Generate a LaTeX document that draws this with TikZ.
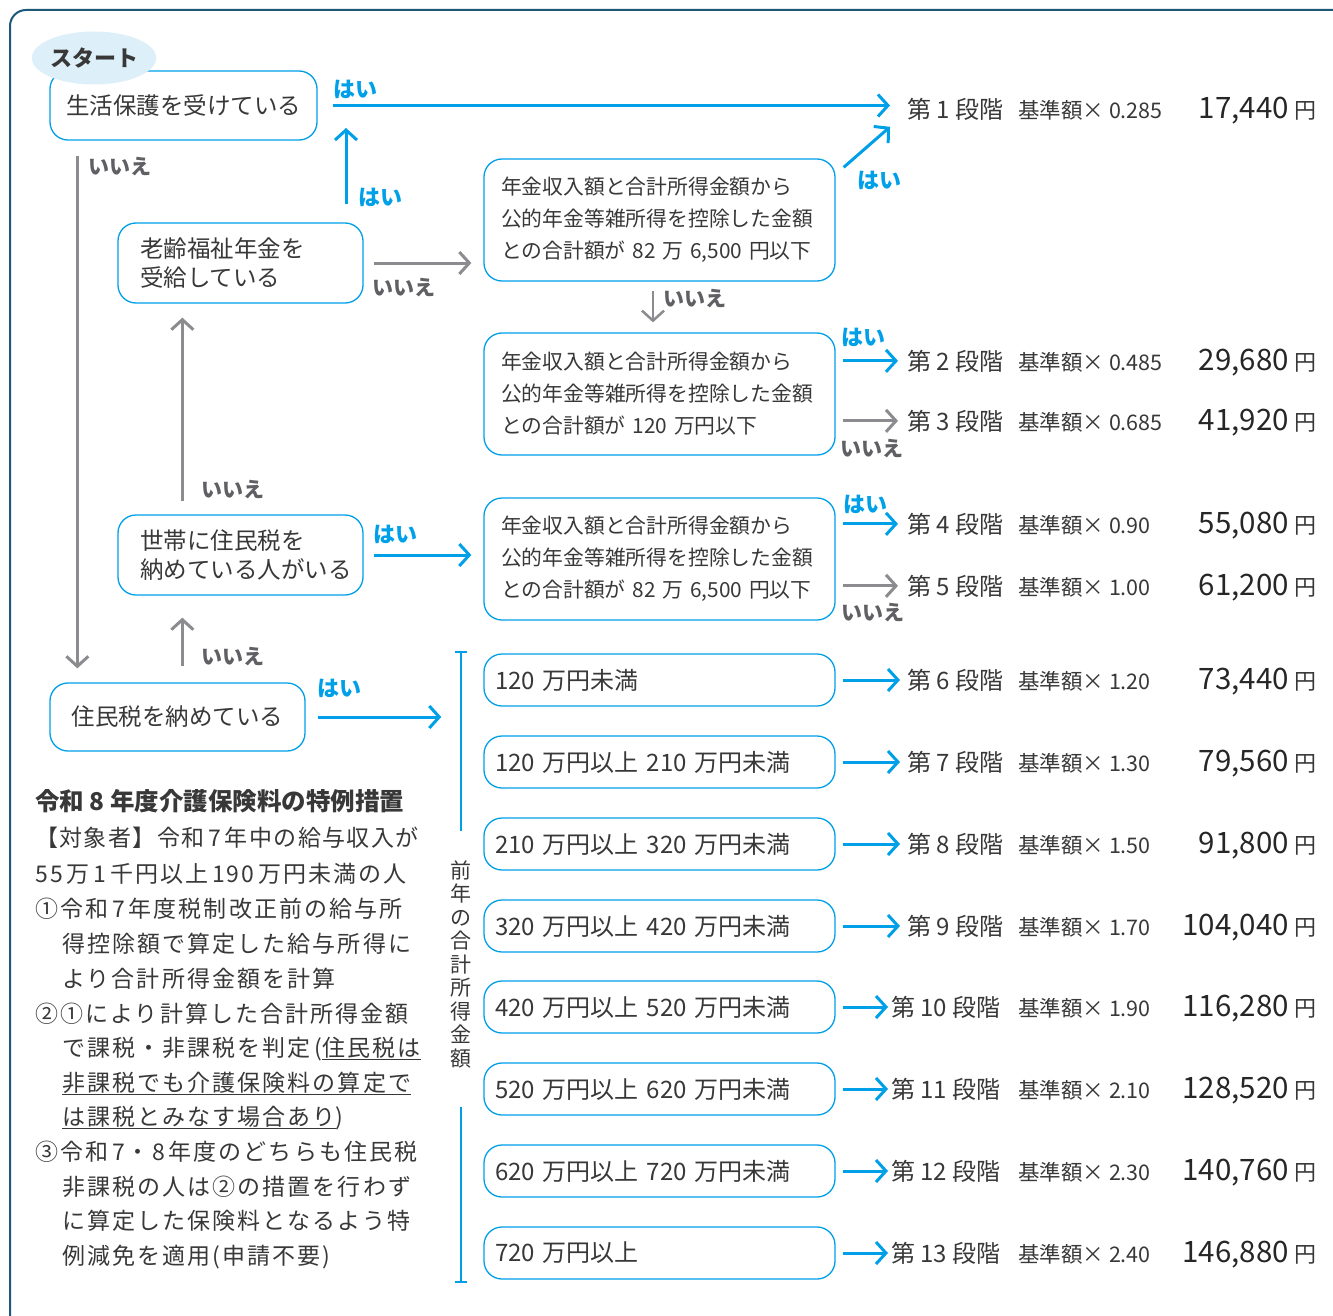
\documentclass[tikz,border=0pt]{standalone}
\usepackage{fontspec}
\usepackage{tikz}
\usetikzlibrary{arrows.meta,shapes.geometric}

\newfontfamily\jp{Noto Sans CJK JP}
\newfontfamily\jpwide{Noto Sans CJK JP}[LetterSpace=9]
\newfontfamily\jpmid{Noto Sans CJK JP}[LetterSpace=6]
\newcommand{\fsz}[2]{\fontsize{#1}{#2}\selectfont}

\definecolor{haiblue}{HTML}{00A0E9}
\definecolor{iiegray}{HTML}{8C8C90}
\definecolor{iieink}{HTML}{606064}
\definecolor{framecol}{HTML}{1D5878}
\definecolor{startfill}{HTML}{DDF0F9}
\definecolor{ink}{HTML}{383838}

\begin{document}
\begin{tikzpicture}[x=1pt,y=1pt,
  qbox/.style={draw=haiblue,line width=1.3pt,rounded corners=18pt},
  rangebox/.style={qbox,minimum width=351pt,minimum height=52pt,inner xsep=11pt,text width=329pt,align=left,font=\jp\fsz{24}{24}},
  calcbox/.style={qbox,minimum width=351pt,minimum height=122pt,inner xsep=17pt,text width=317pt,align=left,font=\jp\fsz{20.8}{32}},
  hai/.style={text=haiblue,font=\jp\bfseries\fsz{22}{22}},
  iie/.style={text=iieink,font=\jp\bfseries\fsz{21}{21}},
  haiarrow/.style={draw=haiblue,line width=3pt,-{Straight Barb[length=10pt,width=22pt]}},
  iiearrow/.style={draw=iiegray,line width=3pt,-{Straight Barb[length=10pt,width=22pt]}},
  stage/.style={anchor=base west,font=\jp\fsz{24}{24}},
  rate/.style={anchor=base west,font=\jp\fsz{21.5}{21.5}},
  yen/.style={anchor=base east,text=black!85,font=\jp\fsz{29.5}{29.5}},
  unit/.style={anchor=base west,font=\jp\fsz{22}{22}},
  note/.style={anchor=base west,font=\jpwide\fsz{23}{23}}]
\tikzstyle{every node}+=[inner sep=0pt,text=ink,font=\jp]
\useasboundingbox (0,0) rectangle (1333,-1316);
\draw [framecol,line width=2pt,rounded corners=16pt] (10,-1340) -- (10,-10) -- (1350,-10);

\node [qbox,minimum width=267pt,minimum height=69pt,font=\jp\fsz{23.5}{23.5}] (seikatsu) at (183.5,-105.5) {生活保護を受けている};
\node [ellipse,fill=startfill,minimum width=122pt,minimum height=53pt,font=\jp\bfseries\fsz{22}{22}] (start) at (94,-58) {スタート};
\node [qbox,minimum width=245pt,minimum height=80pt,inner xsep=22pt,text width=201pt,align=left,font=\jp\fsz{23.5}{29}] (rorei) at (240.5,-263) {老齢福祉年金を\\受給している};
\node [qbox,minimum width=245pt,minimum height=80pt,inner xsep=22pt,text width=201pt,align=left,font=\jp\fsz{23.5}{29}] (setai) at (240.5,-555) {世帯に住民税を\\納めている人がいる};
\node [qbox,minimum width=255pt,minimum height=68pt,font=\jp\fsz{23.5}{23.5}] (jumin) at (177.5,-717) {住民税を納めている};

\node [calcbox] (nenkinA) at (659.5,-220) {年金収入額と合計所得金額から\\公的年金等雑所得を控除した金額\\との合計額が 82 万 6,500 円以下};
\node [calcbox] (nenkinB) at (659.5,-394) {年金収入額と合計所得金額から\\公的年金等雑所得を控除した金額\\との合計額が 120 万円以下};
\node [calcbox] (nenkinC) at (659.5,-559) {年金収入額と合計所得金額から\\公的年金等雑所得を控除した金額\\との合計額が 82 万 6,500 円以下};

\node [rangebox] (r6) at (659.5,-680) {120 万円未満};
\node [rangebox] (r7) at (659.5,-762) {120 万円以上 210 万円未満};
\node [rangebox] (r8) at (659.5,-844) {210 万円以上 320 万円未満};
\node [rangebox] (r9) at (659.5,-926) {320 万円以上 420 万円未満};
\node [rangebox] (r10) at (659.5,-1007) {420 万円以上 520 万円未満};
\node [rangebox] (r11) at (659.5,-1089) {520 万円以上 620 万円未満};
\node [rangebox] (r12) at (659.5,-1171) {620 万円以上 720 万円未満};
\node [rangebox] (r13) at (659.5,-1253) {720 万円以上};

\node [stage] (s1) at (907,-119) {第 1 段階};
\node [rate] (k1) at (1018,-119) {基準額× 0.285};
\node [yen] (a1) at (1289,-119) {17,440};
\node [unit] (u1) at (1294,-119) {円};
\node [stage] (s2) at (907,-370) {第 2 段階};
\node [rate] (k2) at (1018,-370) {基準額× 0.485};
\node [yen] (a2) at (1289,-370) {29,680};
\node [unit] (u2) at (1294,-370) {円};
\node [stage] (s3) at (907,-430) {第 3 段階};
\node [rate] (k3) at (1018,-430) {基準額× 0.685};
\node [yen] (a3) at (1289,-430) {41,920};
\node [unit] (u3) at (1294,-430) {円};
\node [stage] (s4) at (907,-533) {第 4 段階};
\node [rate] (k4) at (1018,-533) {基準額× 0.90};
\node [yen] (a4) at (1289,-533) {55,080};
\node [unit] (u4) at (1294,-533) {円};
\node [stage] (s5) at (907,-595) {第 5 段階};
\node [rate] (k5) at (1018,-595) {基準額× 1.00};
\node [yen] (a5) at (1289,-595) {61,200};
\node [unit] (u5) at (1294,-595) {円};
\node [stage] (s6) at (907,-689) {第 6 段階};
\node [rate] (k6) at (1018,-689) {基準額× 1.20};
\node [yen] (a6) at (1289,-689) {73,440};
\node [unit] (u6) at (1294,-689) {円};
\node [stage] (s7) at (907,-771) {第 7 段階};
\node [rate] (k7) at (1018,-771) {基準額× 1.30};
\node [yen] (a7) at (1289,-771) {79,560};
\node [unit] (u7) at (1294,-771) {円};
\node [stage] (s8) at (907,-853) {第 8 段階};
\node [rate] (k8) at (1018,-853) {基準額× 1.50};
\node [yen] (a8) at (1289,-853) {91,800};
\node [unit] (u8) at (1294,-853) {円};
\node [stage] (s9) at (907,-935) {第 9 段階};
\node [rate] (k9) at (1018,-935) {基準額× 1.70};
\node [yen] (a9) at (1289,-935) {104,040};
\node [unit] (u9) at (1294,-935) {円};
\node [stage] (s10) at (891,-1016) {第 10 段階};
\node [rate] (k10) at (1018,-1016) {基準額× 1.90};
\node [yen] (a10) at (1289,-1016) {116,280};
\node [unit] (u10) at (1294,-1016) {円};
\node [stage] (s11) at (891,-1098) {第 11 段階};
\node [rate] (k11) at (1018,-1098) {基準額× 2.10};
\node [yen] (a11) at (1289,-1098) {128,520};
\node [unit] (u11) at (1294,-1098) {円};
\node [stage] (s12) at (891,-1180) {第 12 段階};
\node [rate] (k12) at (1018,-1180) {基準額× 2.30};
\node [yen] (a12) at (1289,-1180) {140,760};
\node [unit] (u12) at (1294,-1180) {円};
\node [stage] (s13) at (891,-1262) {第 13 段階};
\node [rate] (k13) at (1018,-1262) {基準額× 2.40};
\node [yen] (a13) at (1289,-1262) {146,880};
\node [unit] (u13) at (1294,-1262) {円};

\node [hai] (hai1) at (355,-89) {はい};
\node [hai] (hai2) at (380,-197) {はい};
\node [hai] (hai3) at (879,-180) {はい};
\node [hai] (hai4) at (863,-337) {はい};
\node [hai] (hai5) at (865,-504) {はい};
\node [hai] (hai6) at (395,-534) {はい};
\node [hai] (hai7) at (339,-688) {はい};
\node [iie] (iie1) at (120,-167) {いいえ};
\node [iie] (iie2) at (404,-288) {いいえ};
\node [iie] (iie3) at (695,-299) {いいえ};
\node [iie] (iie4) at (872,-449) {いいえ};
\node [iie] (iie5) at (873,-613) {いいえ};
\node [iie] (iie6) at (233,-490) {いいえ};
\node [iie] (iie7) at (233,-657) {いいえ};

\coordinate (haiup) at (346,-107);
\draw [haiarrow,shorten <=15pt,shorten >=17pt] (seikatsu.east) -- (seikatsu.east -| s1.west);
\draw [haiarrow,shorten <=18pt,shorten >=21pt] (rorei.north -| haiup) -- (haiup);
\draw [iiearrow,shorten <=15pt,shorten >=14pt] ([xshift=28pt]seikatsu.south west) -- ([xshift=28pt]jumin.north west);
\draw [iiearrow,shorten <=10pt,shorten >=12pt] (rorei.east) -- (rorei.east -| nenkinA.west);
\draw [haiarrow] ([shift={(8pt,-9pt)}]nenkinA.north east) -- ([shift={(-17pt,-17pt)}]s1.west);
\draw [iiearrow,line width=2.5pt,shorten <=9pt,shorten >=10pt] ([xshift=-6.5pt]nenkinA.south) -- ([xshift=-6.5pt]nenkinB.north);
\draw [haiarrow,shorten <=7pt,shorten >=9pt] (nenkinB.east |- s2.west) -- (s2.west);
\draw [iiearrow,shorten <=7pt,shorten >=9pt] (nenkinB.east |- s3.west) -- (s3.west);
\draw [haiarrow,shorten <=7pt,shorten >=9pt] (nenkinC.east |- s4.west) -- (s4.west);
\draw [iiearrow,shorten <=7pt,shorten >=9pt] (nenkinC.east |- s5.west) -- (s5.west);
\draw [iiearrow,shorten <=13pt,shorten >=14pt] ([xshift=65pt]setai.north west) -- ([xshift=65pt]rorei.south west);
\draw [haiarrow,shorten <=10pt,shorten >=12pt] (setai.east) -- (setai.east -| nenkinC.west);
\draw [iiearrow,shorten <=16pt,shorten >=22pt] ([xshift=133pt]jumin.north west) -- ([xshift=65pt]setai.south west);

\node [font=\jp\fsz{21}{23.5},align=center] (zenen) at (461,-964) {前\\年\\の\\合\\計\\所\\得\\金\\額};
\coordinate (brtop) at (461,-652);
\coordinate (brbot) at (461,-1282);
\draw [haiarrow,shorten <=12pt,shorten >=9pt] (jumin.east) -- (jumin.east -| zenen.west);
\draw [haiblue,line width=1.5pt,shorten >=29pt] (brtop) -- (brtop |- zenen.north);
\draw [haiblue,line width=1.5pt,shorten >=39pt] (brbot) -- (brbot |- zenen.south);
\draw [haiblue,line width=1.5pt] ([xshift=-6pt]brtop) -- ([xshift=6pt]brtop);
\draw [haiblue,line width=1.5pt] ([xshift=-6pt]brbot) -- ([xshift=6pt]brbot);
\draw [haiarrow,shorten <=7pt,shorten >=7pt] (r6.east) -- (r6.east -| s6.west);
\draw [haiarrow,shorten <=7pt,shorten >=7pt] (r7.east) -- (r7.east -| s7.west);
\draw [haiarrow,shorten <=7pt,shorten >=7pt] (r8.east) -- (r8.east -| s8.west);
\draw [haiarrow,shorten <=7pt,shorten >=7pt] (r9.east) -- (r9.east -| s9.west);
\draw [haiarrow,shorten <=7pt,shorten >=3pt] (r10.east) -- (r10.east -| s10.west);
\draw [haiarrow,shorten <=7pt,shorten >=3pt] (r11.east) -- (r11.east -| s11.west);
\draw [haiarrow,shorten <=7pt,shorten >=3pt] (r12.east) -- (r12.east -| s12.west);
\draw [haiarrow,shorten <=7pt,shorten >=3pt] (r13.east) -- (r13.east -| s13.west);

\node [anchor=base west,font=\jp\bfseries\fsz{24.5}{24.5}] (title) at (35,-810) {令和 8 年度介護保険料の特例措置};
\node [note,font=\jpmid\fsz{23}{23}] (n1) at (35,-846) {【対象者】令和\,7\,年中の給与収入が};
\node [note] (n2) at (35,-882) {55\,万\,1\,千円以上\,190\,万円未満の人};
\node [note] (n3) at (35,-917) {①令和\,7\,年度税制改正前の給与所};
\node [note] (n4) at (62,-952) {得控除額で算定した給与所得に};
\node [note] (n5) at (62,-987) {より合計所得金額を計算};
\node [note] (n6) at (35,-1022) {②①により計算した合計所得金額};
\node [note] (n7) at (62,-1056) {で課税・非課税を判定\,(\underline{住民税は}};
\node [note] (n8) at (62,-1091) {\underline{非課税でも介護保険料の算定で}};
\node [note] (n9) at (62,-1125) {\underline{は課税とみなす場合あり})};
\node [note] (n10) at (35,-1160) {③令和\,7・8\,年度のどちらも住民税};
\node [note] (n11) at (62,-1195) {非課税の人は②の措置を行わず};
\node [note] (n12) at (62,-1229) {に算定した保険料となるよう特};
\node [note] (n13) at (62,-1264) {例減免を適用(申請不要)};
\end{tikzpicture}
\end{document}
